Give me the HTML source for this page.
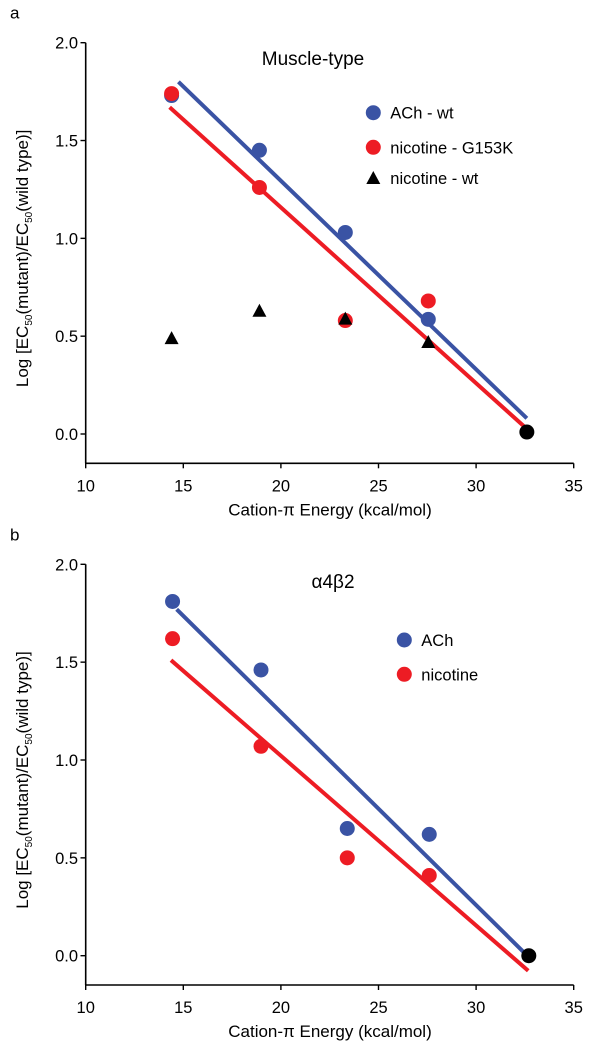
<!DOCTYPE html>
<html><head><meta charset="utf-8"><style>
html,body{margin:0;padding:0;background:#fff;}
svg{display:block;font-family:"Liberation Sans",sans-serif;}
</style></head><body>
<svg id="chart" width="612" height="1050" viewBox="0 0 612 1050"></svg>
<script>
// Panel a data
const xA = [14.4, 18.9, 23.3, 27.55];
const achWtA = [1.73, 1.45, 1.03, 0.586];
const nicG153K = [1.74, 1.26, 0.58, 0.68];
const nicWt = [0.49, 0.63, 0.59, 0.47];
const refPoint = [32.6, 0.01];
const lineAchA = [14.75, 1.80, 32.6, 0.08];
const lineNicA = [14.3, 1.67, 32.5, 0.035];
// Panel b data
const xB = [14.45, 18.98, 23.4, 27.6];
const achB = [1.81, 1.46, 0.65, 0.62];
const nicB = [1.62, 1.07, 0.50, 0.41];
const refPointB = [32.7, 0.0];
const lineAchB = [14.66, 1.77, 32.42, 0.02];
const lineNicB = [14.37, 1.51, 32.67, -0.077];
const xTicks = [10, 15, 20, 25, 30, 35];
const yTicks = [0, 0.5, 1.0, 1.5, 2.0];

const NS = "http://www.w3.org/2000/svg";
const svg = document.getElementById('chart');
const BLUE = "#3a53a4", RED = "#ed1c24";
function el(tag, attrs, parent, text) {
  const e = document.createElementNS(NS, tag);
  for (const k in attrs) e.setAttribute(k, attrs[k]);
  if (text !== undefined) e.textContent = text;
  (parent || svg).appendChild(e);
  return e;
}
function panel(name, y0px, y2px, axisY, title, letter) {
  const g = el('g', {});
  
  
  const sx = v => 85.7 + (v - 10) * 19.52;
  const sy = v => y0px - v * (y0px - y2px) / 2;
  // axes
  const ya = el('line', {x1: 85.7, y1: y2px, x2: 85.7, y2: axisY, stroke: '#000', 'stroke-width': 1.6}, g);
  
  
  const xa = el('line', {x1: 85, y1: axisY, x2: sx(35), y2: axisY, stroke: '#000', 'stroke-width': 1.6}, g);
  
  
  yTicks.forEach(t => {
    el('line', {x1: 80.5, y1: sy(t), x2: 85.7, y2: sy(t), stroke: '#000', 'stroke-width': 1.4}, g);
    const tl = el('text', {x: 78, y: sy(t) + 6, 'text-anchor': 'end', 'font-size': 16.5}, g, t.toFixed(1));
    
    
  });
  xTicks.forEach(t => {
    el('line', {x1: sx(t), y1: axisY, x2: sx(t), y2: axisY + 5, stroke: '#000', 'stroke-width': 1.4}, g);
    const tl = el('text', {x: sx(t), y: axisY + 28, 'text-anchor': 'middle', 'font-size': 16.5}, g, String(t));
    
    
  });
  const xt = el('text', {x: 330, y: axisY + 52, 'text-anchor': 'middle', 'font-size': 17}, g, 'Cation-\u03C0 Energy (kcal/mol)');
  
  
  const cy = (y0px + y2px) / 2 + 20;
  const yt = el('text', {x: 0, y: 0, 'text-anchor': 'middle', 'font-size': 17, transform: `translate(28,${cy}) rotate(-90)`}, g);
  
  
  yt.innerHTML = 'Log [EC<tspan font-size="10" dy="4">50</tspan><tspan dy="-4">(mutant)/EC</tspan><tspan font-size="10" dy="4">50</tspan><tspan dy="-4">(wild type)]</tspan>';
  const lt = el('text', {x: 10, y: y2px - 24, 'font-size': 17}, g, letter);
  
  
  return {g, sx, sy};
}
function line(p, arr, color, name) {
  const l = el('line', {x1: p.sx(arr[0]), y1: p.sy(arr[1]), x2: p.sx(arr[2]), y2: p.sy(arr[3]), stroke: color, 'stroke-width': 4}, p.g);
  
  
}
function dots(p, xs, ys, color, name) {
  xs.forEach((x, i) => {
    const c = el('circle', {cx: p.sx(x), cy: p.sy(ys[i]), r: 7.5, fill: color}, p.g);
    
    
  });
}
function tris(p, xs, ys, name) {
  xs.forEach((x, i) => {
    const cx = p.sx(x), cy = p.sy(ys[i]);
    const t = el('polygon', {points: `${cx-7},${cy+6} ${cx+7},${cy+6} ${cx},${cy-7}`, fill: '#000'}, p.g);
    
    
  });
}
function legend(p, x, y, kind, color, label) {
  if (kind === 'dot') el('circle', {cx: x, cy: y, r: 7.5, fill: color}, p.g);
  else el('polygon', {points: `${x-7},${y+6} ${x+7},${y+6} ${x},${y-7}`, fill: '#000'}, p.g);
  const t = el('text', {x: x + 17, y: y + 6, 'font-size': 16.5}, p.g, label);
  
  
}

// Panel a
const A = panel('panel-a', 434, 42.7, 463.3, 'Muscle-type', 'a');
const ta = el('text', {x: 313, y: 65, 'text-anchor': 'middle', 'font-size': 19}, A.g, 'Muscle-type');


line(A, lineAchA, BLUE, 'fit-line-ach-wt');
line(A, lineNicA, RED, 'fit-line-nicotine-g153k');
dots(A, xA, achWtA, BLUE, 'point-ach-wt');
dots(A, xA, nicG153K, RED, 'point-nicotine-g153k');
tris(A, xA, nicWt, 'point-nicotine-wt');
dots(A, [refPoint[0]], [refPoint[1]], '#000', 'point-reference');
legend(A, 373.3, 112.7, 'dot', BLUE, 'ACh - wt');
legend(A, 373.3, 147.3, 'dot', RED, 'nicotine - G153K');
legend(A, 373.3, 178, 'tri', '#000', 'nicotine - wt');

// Panel b
const B = panel('panel-b', 955.7, 564.3, 985, '\u03B14\u03B22', 'b');
const tb = el('text', {x: 333, y: 588, 'text-anchor': 'middle', 'font-size': 19}, B.g, '\u03B14\u03B22');


line(B, lineAchB, BLUE, 'fit-line-ach');
line(B, lineNicB, RED, 'fit-line-nicotine');
dots(B, xB, achB, BLUE, 'point-ach');
dots(B, xB, nicB, RED, 'point-nicotine');
dots(B, [refPointB[0]], [refPointB[1]], '#000', 'point-reference');
legend(B, 404.3, 640, 'dot', BLUE, 'ACh');
legend(B, 404.3, 674.3, 'dot', RED, 'nicotine');
</script>
</body></html>
